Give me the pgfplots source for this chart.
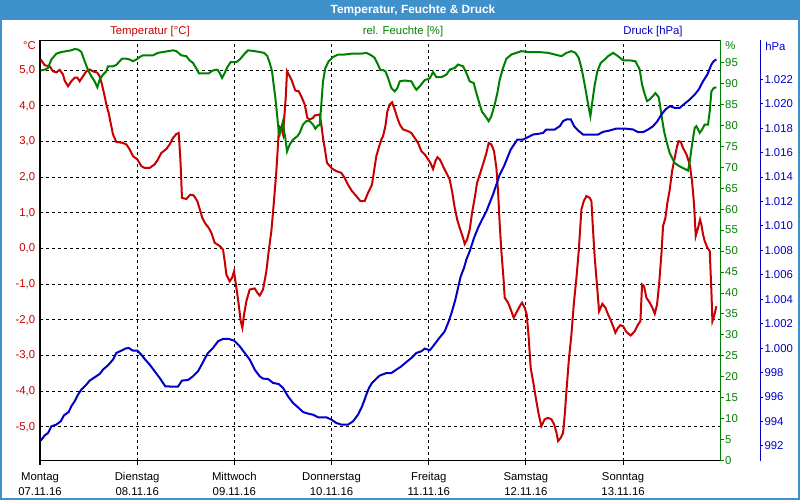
\documentclass[border=0pt]{standalone}
\usepackage{pgfplots}
\pgfplotsset{compat=1.18}
\usepackage{fontspec}
\setmainfont{Liberation Sans}
\definecolor{tred}{HTML}{C80000}
\definecolor{hgreen}{HTML}{008000}
\definecolor{pblue}{HTML}{0000C8}
\definecolor{barblue}{HTML}{3F91CB}
\newcommand{\lf}{\fontsize{8.5}{11.25}\selectfont}
\begin{document}
\begin{tikzpicture}
\path[use as bounding box] (0,0) rectangle (600pt,375pt);
\fill[white] (0,0) rectangle (600pt,375pt);
\fill[barblue] (0,360pt) rectangle (600pt,375pt);
\fill[barblue] (0,0) rectangle (1.5pt,375pt);
\fill[barblue] (598.5pt,0) rectangle (600pt,375pt);
\fill[barblue] (0,0) rectangle (600pt,1.5pt);
\node[white, font=\bfseries\fontsize{8.9}{10}\selectfont] at (309.75pt,367.5pt) {Temperatur, Feuchte \& Druck};
\pgfplotsset{base/.style={at={(30pt,29.5pt)}, anchor=south west, width=510.2pt, height=315.3pt, scale only axis, xmin=0, xmax=168, tick label style={font=\lf}}}
% Temperature
\begin{axis}[base, ymin=-5.95, ymax=5.84,
  xtick={0,24,...,144},
  xticklabels={{Montag\\07.11.16},{Dienstag\\08.11.16},{Mittwoch\\09.11.16},{Donnerstag\\10.11.16},{Freitag\\11.11.16},{Samstag\\12.11.16},{Sonntag\\13.11.16}},
  xticklabel style={align=center, black, yshift=-2.25pt},
  ytick={-5,...,5},
  yticklabels={{-5,0},{-4,0},{-3,0},{-2,0},{-1,0},{0,0},{1,0},{2,0},{3,0},{4,0},{5,0}},
  yticklabel style={tred, inner xsep=0.5pt},
  tick pos=left, tick align=outside, major tick length=3pt,
  xtick style={black, line width=0.75pt}, ytick style={draw=none},
  grid=major, major grid style={black, line width=0.75pt, dash pattern=on 2.25pt off 2.25pt},
  axis line style={black, line width=0.9pt}]
\addplot[tred, line width=1.5pt] coordinates {
(0.17,5.30) (1.16,5.14) (2.39,5.11) (3.21,4.97) (4.04,4.94) (4.86,5.01) (5.68,4.88) (6.09,4.71) (6.92,4.55) (7.74,4.69)
(8.56,4.79) (9.22,4.79) (9.80,4.69) (10.62,4.83) (11.44,4.97) (12.27,5.02) (13.09,4.97) (14.16,4.93) (14.74,4.83) (15.31,4.60)
(15.97,4.27) (16.38,4.04) (16.96,3.80) (17.45,3.52) (18.03,3.20) (18.85,2.99) (20.50,2.96) (21.32,2.92) (22.14,2.78) (22.97,2.59)
(24.04,2.50) (25.02,2.31) (25.85,2.26) (27.08,2.26) (28.32,2.36) (29.14,2.50) (29.96,2.68) (31.20,2.79) (32.02,2.92) (32.84,3.10)
(33.67,3.21) (34.24,3.24) (34.49,2.82) (34.73,2.36) (35.06,1.42) (36.13,1.39) (37.12,1.51) (37.94,1.49) (38.85,1.33) (39.59,1.05)
(40.08,0.86) (40.82,0.70) (41.65,0.58) (42.32,0.44) (43.15,0.16) (44.38,0.07) (45.20,-0.03) (45.62,-0.36) (46.03,-0.73) (46.85,-0.92)
(47.43,-0.82) (47.92,-0.64) (48.50,-1.10) (49.07,-1.57) (49.57,-2.04) (49.98,-2.22) (50.39,-1.85) (50.96,-1.48) (51.79,-1.15) (53.02,-1.12)
(53.68,-1.24) (54.26,-1.32) (55.08,-1.15) (55.90,-0.64) (56.48,-0.07) (57.14,0.49) (57.71,1.23) (58.37,2.17) (58.78,2.92) (59.03,3.43)
(59.61,3.38) (60.02,3.20) (60.26,3.57) (60.68,4.22) (61.01,4.97) (62.08,4.74) (63.06,4.43) (63.89,4.41) (64.71,4.22) (65.37,4.04)
(66.03,3.66) (66.60,3.62) (67.42,3.66) (67.84,3.73) (69.07,3.76) (69.48,3.48) (69.89,3.10) (70.31,2.82) (70.88,2.40) (72.12,2.24)
(73.19,2.17) (74.42,2.12) (75.24,1.98) (76.07,1.79) (77.05,1.61) (78.12,1.47) (79.11,1.33) (80.18,1.33) (81.00,1.56) (81.99,1.79)
(82.49,2.17) (83.06,2.59) (83.64,2.82) (84.30,3.06) (84.72,3.15) (85.30,3.43) (85.79,3.85) (86.37,4.04) (86.95,4.10) (87.60,3.90)
(88.26,3.66) (88.84,3.48) (89.66,3.34) (90.90,3.29) (91.72,3.24) (92.54,3.10) (93.37,2.96) (94.19,2.73) (95.01,2.64) (95.84,2.50)
(96.41,2.40) (97.07,2.23) (97.65,2.45) (98.14,2.56) (98.72,2.50) (99.54,2.31) (100.36,2.12) (101.19,1.93) (101.76,1.61) (102.42,1.14)
(103.08,0.79) (103.90,0.49) (104.48,0.30) (104.89,0.13) (105.46,0.25) (106.12,0.53) (106.70,1.00) (107.36,1.42) (107.93,1.84) (108.59,2.07)
(109.41,2.36) (110.24,2.68) (110.81,2.96) (111.47,2.92) (112.13,2.73) (112.71,2.26) (113.12,1.61) (113.53,0.68) (113.94,-0.07) (114.52,-0.92)
(114.76,-1.38) (115.59,-1.52) (116.25,-1.71) (116.99,-1.94) (117.64,-1.80) (118.47,-1.62) (119.04,-1.52) (119.70,-1.66) (120.20,-1.85) (120.69,-2.50)
(121.18,-3.35) (121.84,-3.77) (122.58,-4.28) (123.16,-4.65) (123.82,-4.98) (124.64,-4.79) (125.46,-4.75) (126.30,-4.79) (126.96,-4.93) (127.54,-5.16)
(127.95,-5.40) (128.61,-5.31) (129.18,-5.17) (129.60,-4.65) (130.01,-4.00) (130.58,-3.16) (131.24,-2.41) (131.82,-1.57) (132.48,-0.82) (133.05,-0.07)
(133.71,1.10) (134.29,1.33) (134.94,1.47) (135.77,1.42) (136.18,1.33) (136.59,0.49) (137.00,-0.26) (137.58,-1.06) (138.07,-1.76) (138.89,-1.55)
(139.64,-1.66) (140.29,-1.85) (140.87,-1.99) (141.53,-2.18) (142.10,-2.36) (142.76,-2.22) (143.34,-2.15) (144.00,-2.18) (144.82,-2.34) (145.89,-2.44)
(146.88,-2.32) (147.70,-2.13) (148.28,-2.04) (148.69,-1.01) (149.18,-1.06) (149.76,-1.38) (150.58,-1.52) (151.24,-1.66) (151.82,-1.83) (152.39,-1.57)
(152.89,-1.01) (153.46,-0.17) (153.87,0.63) (154.45,0.86) (154.94,1.28) (155.52,1.65) (156.10,2.17) (156.75,2.54) (157.33,2.87) (157.74,3.01)
(158.24,2.99) (158.81,2.82) (159.64,2.64) (160.46,2.36) (161.03,1.89) (161.53,1.23) (161.94,0.35) (162.52,0.58) (163.01,0.81) (163.34,0.67)
(163.75,0.39) (164.16,0.21) (164.82,0.02) (165.40,-0.07) (165.81,-1.20) (166.06,-2.04) (166.47,-1.90) (167.04,-1.62)
};
\end{axis}
% Humidity
\begin{axis}[base, ymin=0, ymax=100.3, hide x axis, axis y line*=right,
  axis line style={-, hgreen, line width=0.9pt},
  ytick={0,5,...,95}, tick align=outside, major tick length=3pt,
  ytick style={hgreen, line width=0.75pt},
  yticklabel style={hgreen, inner xsep=0.5pt},
  /pgf/number format/assume math mode=true]
\addplot[hgreen, line width=1.5pt] coordinates {
(0.17,93.1) (1.16,93.3) (1.98,93.7) (2.80,95.7) (4.04,97.1) (5.27,97.5) (6.51,97.7) (7.74,97.9) (8.56,98.2) (9.39,98.1)
(10.21,97.5) (11.03,95.3) (11.86,93.2) (12.68,91.7) (13.50,90.5) (14.16,89.1) (14.74,90.9) (15.56,92.1) (16.38,92.9) (16.79,94.1)
(18.03,94.1) (18.85,94.4) (19.67,95.3) (20.25,95.9) (21.32,95.9) (22.14,95.7) (22.97,95.3) (23.79,95.7) (24.61,96.3) (25.43,96.7)
(27.90,96.7) (29.14,97.3) (30.37,97.5) (31.61,97.7) (32.84,97.9) (33.67,97.7) (34.90,96.7) (36.13,96.5) (36.96,95.5) (37.78,94.9)
(38.60,93.6) (39.26,92.4) (40.66,92.4) (41.65,92.4) (42.72,93.1) (43.80,93.3) (44.38,92.5) (44.96,91.3) (45.62,92.5) (46.27,93.9)
(47.10,95.1) (48.50,95.1) (49.32,95.7) (50.55,97.1) (51.38,97.9) (53.02,97.7) (54.26,97.5) (55.33,97.3) (56.15,96.5) (56.73,94.9)
(57.30,92.9) (57.71,89.7) (58.12,86.6) (58.54,82.6) (58.95,78.6) (59.19,77.8) (59.61,79.4) (60.02,81.0) (60.26,78.6) (60.59,77.0)
(61.01,73.8) (61.66,75.4) (62.49,76.6) (63.56,77.4) (64.13,78.2) (64.96,80.2) (65.78,81.0) (66.60,81.0) (67.42,80.2) (68.00,79.2)
(68.66,80.0) (69.07,80.0) (69.48,85.0) (69.89,90.5) (70.47,93.7) (71.29,95.3) (72.36,96.3) (73.60,96.9) (75.24,96.9) (76.89,97.1)
(79.36,97.1) (80.59,97.3) (81.83,96.7) (82.65,96.1) (83.47,94.5) (84.05,93.2) (84.72,93.2) (85.30,92.9) (85.96,91.3) (86.78,88.9)
(87.60,88.1) (88.26,88.9) (88.84,90.5) (90.07,90.7) (91.72,90.5) (92.38,89.3) (92.95,88.5) (93.78,89.3) (95.01,90.8) (96.25,91.2)
(97.07,92.7) (97.89,91.5) (99.13,91.5) (100.36,92.1) (101.19,93.3) (102.42,93.7) (103.24,94.5) (104.48,94.1) (105.30,92.5) (106.12,90.5)
(107.11,90.1) (107.77,87.7) (108.59,85.0) (109.17,83.2) (109.99,82.2) (110.81,81.0) (111.47,82.2) (112.30,85.0) (112.95,87.7) (113.53,90.9)
(114.35,93.7) (115.18,95.9) (116.41,96.9) (117.64,97.3) (118.88,97.7) (120.53,97.5) (123.00,97.5) (125.46,97.3) (127.13,96.9) (128.77,96.5)
(130.01,97.3) (131.24,97.7) (132.23,97.3) (133.05,96.1) (133.71,93.7) (134.37,90.5) (134.94,87.4) (135.52,84.2) (135.93,82.2) (136.43,85.8)
(137.00,89.7) (137.66,92.9) (138.48,94.9) (139.47,95.7) (140.29,96.5) (141.53,97.3) (142.76,96.5) (144.00,95.5) (145.64,95.5) (147.04,95.3)
(148.11,93.3) (148.69,89.7) (149.35,87.4) (149.92,85.8) (150.58,86.2) (151.40,87.0) (151.98,87.7) (152.80,86.7) (153.22,84.2) (153.71,81.0)
(154.12,78.6) (154.70,76.2) (155.52,73.4) (156.75,71.0) (157.99,70.2) (159.22,69.6) (160.05,69.2) (160.46,71.4) (161.03,75.4) (161.69,79.4)
(162.10,79.8) (162.93,78.2) (163.50,79.0) (164.16,80.2) (164.98,80.2) (165.40,83.4) (165.81,88.1) (166.39,88.9) (167.04,89.1)
};
\end{axis}
% Pressure curve
\begin{axis}[base, ymin=990.8, ymax=1025.19, hide axis]
\addplot[pblue, line width=1.5pt] coordinates {
(0.17,992.44) (1.16,992.87) (1.98,993.06) (2.80,993.61) (4.04,993.75) (5.11,994.02) (5.93,994.51) (7.08,994.78) (7.74,995.25) (8.56,995.66)
(9.39,996.20) (10.21,996.61) (11.44,997.02) (12.27,997.35) (13.50,997.62) (14.74,997.89) (15.56,998.25) (16.79,998.60) (18.03,999.07) (18.85,999.61)
(20.09,999.80) (21.07,999.97) (21.90,1000.02) (22.97,999.80) (24.04,999.80) (25.02,999.47) (25.85,999.12) (27.08,998.66) (28.32,998.11) (29.55,997.57)
(30.95,996.88) (32.43,996.86) (34.08,996.86) (35.06,997.35) (36.55,997.40) (37.78,997.70) (39.01,998.11) (39.84,998.60) (40.66,999.12) (41.48,999.61)
(42.72,1000.02) (43.97,1000.57) (45.20,1000.76) (46.60,1000.76) (47.92,1000.62) (49.32,1000.16) (50.55,999.61) (51.79,999.07) (53.02,998.25) (54.26,997.70)
(55.08,997.51) (56.31,997.48) (57.55,997.16) (58.95,997.07) (60.02,996.75) (61.25,996.06) (62.49,995.52) (63.72,995.16) (64.96,994.78) (66.19,994.65)
(67.42,994.56) (68.66,994.35) (70.72,994.35) (71.95,994.16) (73.19,993.88) (74.42,993.75) (76.07,993.75) (77.30,994.02) (78.54,994.56) (79.36,995.11)
(80.02,995.66) (80.59,996.20) (81.25,996.75) (81.99,997.16) (83.06,997.51) (83.88,997.76) (85.55,997.97) (86.78,997.97) (88.02,998.25) (89.25,998.52)
(90.49,998.87) (91.72,999.20) (92.95,999.61) (94.19,999.75) (95.01,999.97) (96.25,999.83) (97.07,1000.16) (98.30,1000.70) (99.95,1001.38) (100.94,1002.20)
(101.76,1003.02) (102.58,1003.98) (103.24,1004.93) (103.90,1005.88) (104.72,1006.57) (105.30,1007.25) (106.12,1007.93) (107.19,1009.02) (108.18,1009.84) (109.17,1010.52)
(110.24,1011.20) (111.06,1011.89) (111.88,1012.57) (112.71,1013.39) (113.53,1014.20) (114.60,1014.89) (115.42,1015.57) (116.25,1016.25) (117.07,1016.66) (117.89,1017.07)
(119.29,1017.07) (120.53,1017.26) (121.76,1017.48) (123.00,1017.53) (124.23,1017.61) (125.05,1017.89) (127.13,1017.89) (128.36,1018.16) (129.18,1018.57) (130.01,1018.71)
(131.08,1018.71) (131.90,1018.16) (132.89,1017.81) (134.12,1017.48) (137.83,1017.48) (139.06,1017.70) (140.71,1017.81) (142.35,1017.97) (144.41,1017.97) (146.47,1017.89)
(147.70,1017.67) (148.94,1017.67) (150.17,1017.89) (151.40,1018.16) (152.47,1018.57) (153.46,1019.11) (154.45,1019.52) (155.52,1019.80) (156.75,1019.66) (157.99,1019.66)
(159.22,1020.01) (160.46,1020.34) (161.69,1020.75) (162.68,1021.16) (163.75,1021.84) (164.82,1022.39) (165.81,1023.21) (166.39,1023.48) (167.04,1023.62)
};
\end{axis}
% Pressure scale
\begin{axis}[at={(60pt,29.5pt)}, anchor=south west, width=510.2pt, height=315.3pt, scale only axis,
  xmin=0, xmax=1, ymin=990.8, ymax=1025.19, hide x axis, axis y line*=right,
  axis line style={-, pblue, line width=0.9pt},
  ytick={992,994,...,1022},
  yticklabels={992,994,996,998,1.000,1.002,1.004,1.006,1.008,1.010,1.012,1.014,1.016,1.018,1.020,1.022},
  tick align=outside, major tick length=2pt,
  ytick style={pblue, line width=0.75pt},
  tick label style={font=\lf},
  yticklabel style={pblue, inner xsep=1pt}]
\addplot[draw=none] coordinates {(0.5,1000)};
\end{axis}
\node[tred, font=\lf] at (112.5pt,351pt) {Temperatur [°C]};
\node[hgreen, font=\lf] at (302.25pt,351pt) {rel. Feuchte [\%]};
\node[pblue, font=\lf] at (489.75pt,351pt) {Druck [hPa]};
\node[tred, font=\lf, anchor=east, inner xsep=0pt] at (27pt,340.5pt) {°C};
\node[hgreen, font=\lf, anchor=west, inner xsep=0pt] at (543.75pt,340.5pt) {\%};
\node[pblue, font=\lf, anchor=west, inner xsep=0pt] at (573.75pt,340.5pt) {hPa};
\end{tikzpicture}
\end{document}
